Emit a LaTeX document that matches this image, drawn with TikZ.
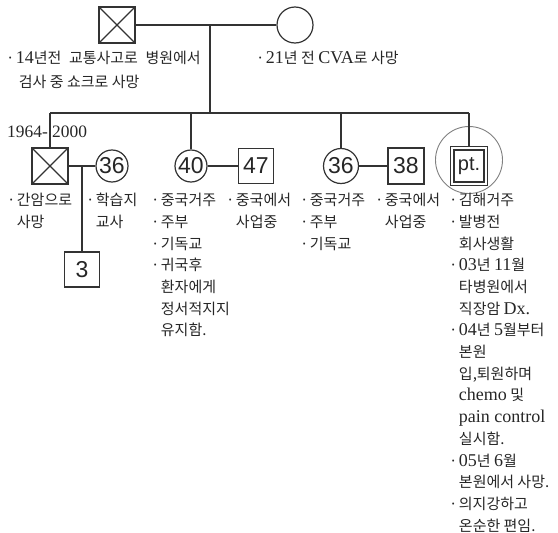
\documentclass[tikz,border=0pt]{standalone}
\usepackage{fontspec}
\newfontfamily\krf{Noto Sans CJK KR}
\newfontfamily\latf[Scale=1.2]{Liberation Serif}
\newfontfamily\nodef{Liberation Sans}
\newcommand\bult{\makebox[0.65em][l]{·}}
\newcommand\indt{\hspace*{0.65em}}
\newcommand\wsp{\hspace{0.5em}}
\definecolor{ink}{gray}{0.15}
\definecolor{linec}{gray}{0.2}
\definecolor{ptring}{gray}{0.5}
\tikzset{
  lineal/.style={draw=linec, line width=1.1pt},
  male/.style={rectangle, draw=linec, line width=1.2pt, minimum size=36pt, inner sep=0pt,
    text=ink, font=\nodef\fontsize{23}{23}\selectfont},
  female/.style={circle, draw=linec, line width=1.2pt, minimum size=34pt, inner sep=0pt,
    text=ink, font=\nodef\fontsize{23}{23}\selectfont},
  dead/.style={path picture={\draw[linec, line width=1.1pt]
    (path picture bounding box.north west) -- (path picture bounding box.south east)
    (path picture bounding box.north east) -- (path picture bounding box.south west);}},
  txt/.style={anchor=north west, inner sep=0pt, align=left, text=ink,
    font=\krf\fontsize{15}{21.7}\selectfont},
  yr/.style={inner sep=0pt, text=ink, font=\latf\fontsize{14.5}{17}\selectfont}
}
\begin{document}
\begin{tikzpicture}[x=1pt,y=-1pt]
\useasboundingbox (0,0) rectangle (558,533);

% generation I
\node[male, dead] (gf) at (117,25) {};
\node[female, minimum size=36pt] (gm) at (295,25) {};
\draw[lineal] (gf) -- (gm);
\coordinate (gdrop) at (210,25);
\coordinate (gmid) at (210,113);
\draw[lineal] (gdrop) -- (gmid);
\node[txt, font=\krf\fontsize{15}{24}\selectfont] (gft) at (6,51)
  {\bult{\latf 14}년전\wsp 교통사고로\wsp 병원에서\\\hspace*{0.85em}검사 중 쇼크로 사망};
\node[txt] (gmt) at (256,51) {\bult{\latf 21}년 전 {\latf CVA}로 사망};

% sibship line
\coordinate (sibL) at (50,113);
\coordinate (sib2) at (191,113);
\coordinate (sib3) at (341,113);
\coordinate (sibR) at (469,113);
\draw[lineal] (sibL) -- (sibR);

% sibling 1
\node[male, dead] (s1) at (50,166) {};
\draw[lineal] (sibL) -- (s1);
\node[yr, anchor=east] (y1) at (48,132) {1964-};
\node[yr, anchor=west] (y2) at (52,132) {2000};
\node[female, minimum size=32pt] (w1) at (112,166) {36};
\draw[lineal] (s1) -- (w1);
\coordinate (c1top) at (82,166);
\node[male, minimum size=35pt] (c1) at (82,269.5) {3};
\draw[lineal] (c1top) -- (c1);
\node[txt] (s1t) at (7,193) {\bult 간암으로\\\indt 사망};
\node[txt] (w1t) at (86,193) {\bult 학습지\\\indt 교사};

% sibling 2
\node[female, minimum size=32pt] (s2) at (191,166) {40};
\draw[lineal] (sib2) -- (s2);
\node[male, minimum size=35pt] (h2) at (256,166) {47};
\draw[lineal] (s2) -- (h2);
\node[txt] (s2t) at (151,193) {\bult 중국거주\\\bult 주부\\\bult 기독교\\\bult 귀국후\\\indt 환자에게\\\indt 정서적지지\\\indt 유지함.};
\node[txt] (h2t) at (226,193) {\bult 중국에서\\\indt 사업중};

% sibling 3
\node[female, minimum size=35pt] (s3) at (341,166) {36};
\draw[lineal] (sib3) -- (s3);
\node[male, minimum size=36pt] (h3) at (406,166) {38};
\draw[lineal] (s3) -- (h3);
\node[txt] (s3t) at (300,193) {\bult 중국거주\\\bult 주부\\\bult 기독교};
\node[txt] (h3t) at (375,193) {\bult 중국에서\\\indt 사업중};

% proband
\node[circle, draw=ptring, line width=0.9pt, minimum size=67pt, inner sep=0pt] (ring) at (469,160) {};
\node[rectangle, draw=linec, line width=1.3pt, minimum width=37pt, minimum height=39pt, inner sep=0pt] (pt) at (469,166) {};
\node[rectangle, draw=linec, line width=1.1pt, minimum width=30pt, minimum height=32pt, inner sep=0pt,
  text=ink, font=\nodef\fontsize{20}{20}\selectfont] (ptin) at (469,166) {pt.};
\draw[lineal] (sibR) -- (pt);
\node[txt] (ptt) at (449,193) {\bult 김해거주\\\bult 발병전\\\indt 회사생활\\\bult {\latf 03}년 {\latf 11}월\\\indt 타병원에서\\\indt 직장암 {\latf Dx.}\\\bult {\latf 04}년 {\latf 5}월부터\\\indt 본원\\\indt 입,퇴원하며\\\indt {\latf chemo} 및\\\indt {\latf pain control}\\\indt 실시함.\\\bult {\latf 05}년 {\latf 6}월\\\indt 본원에서 사망.\\\bult 의지강하고\\\indt 온순한 편임.};
\end{tikzpicture}
\end{document}
